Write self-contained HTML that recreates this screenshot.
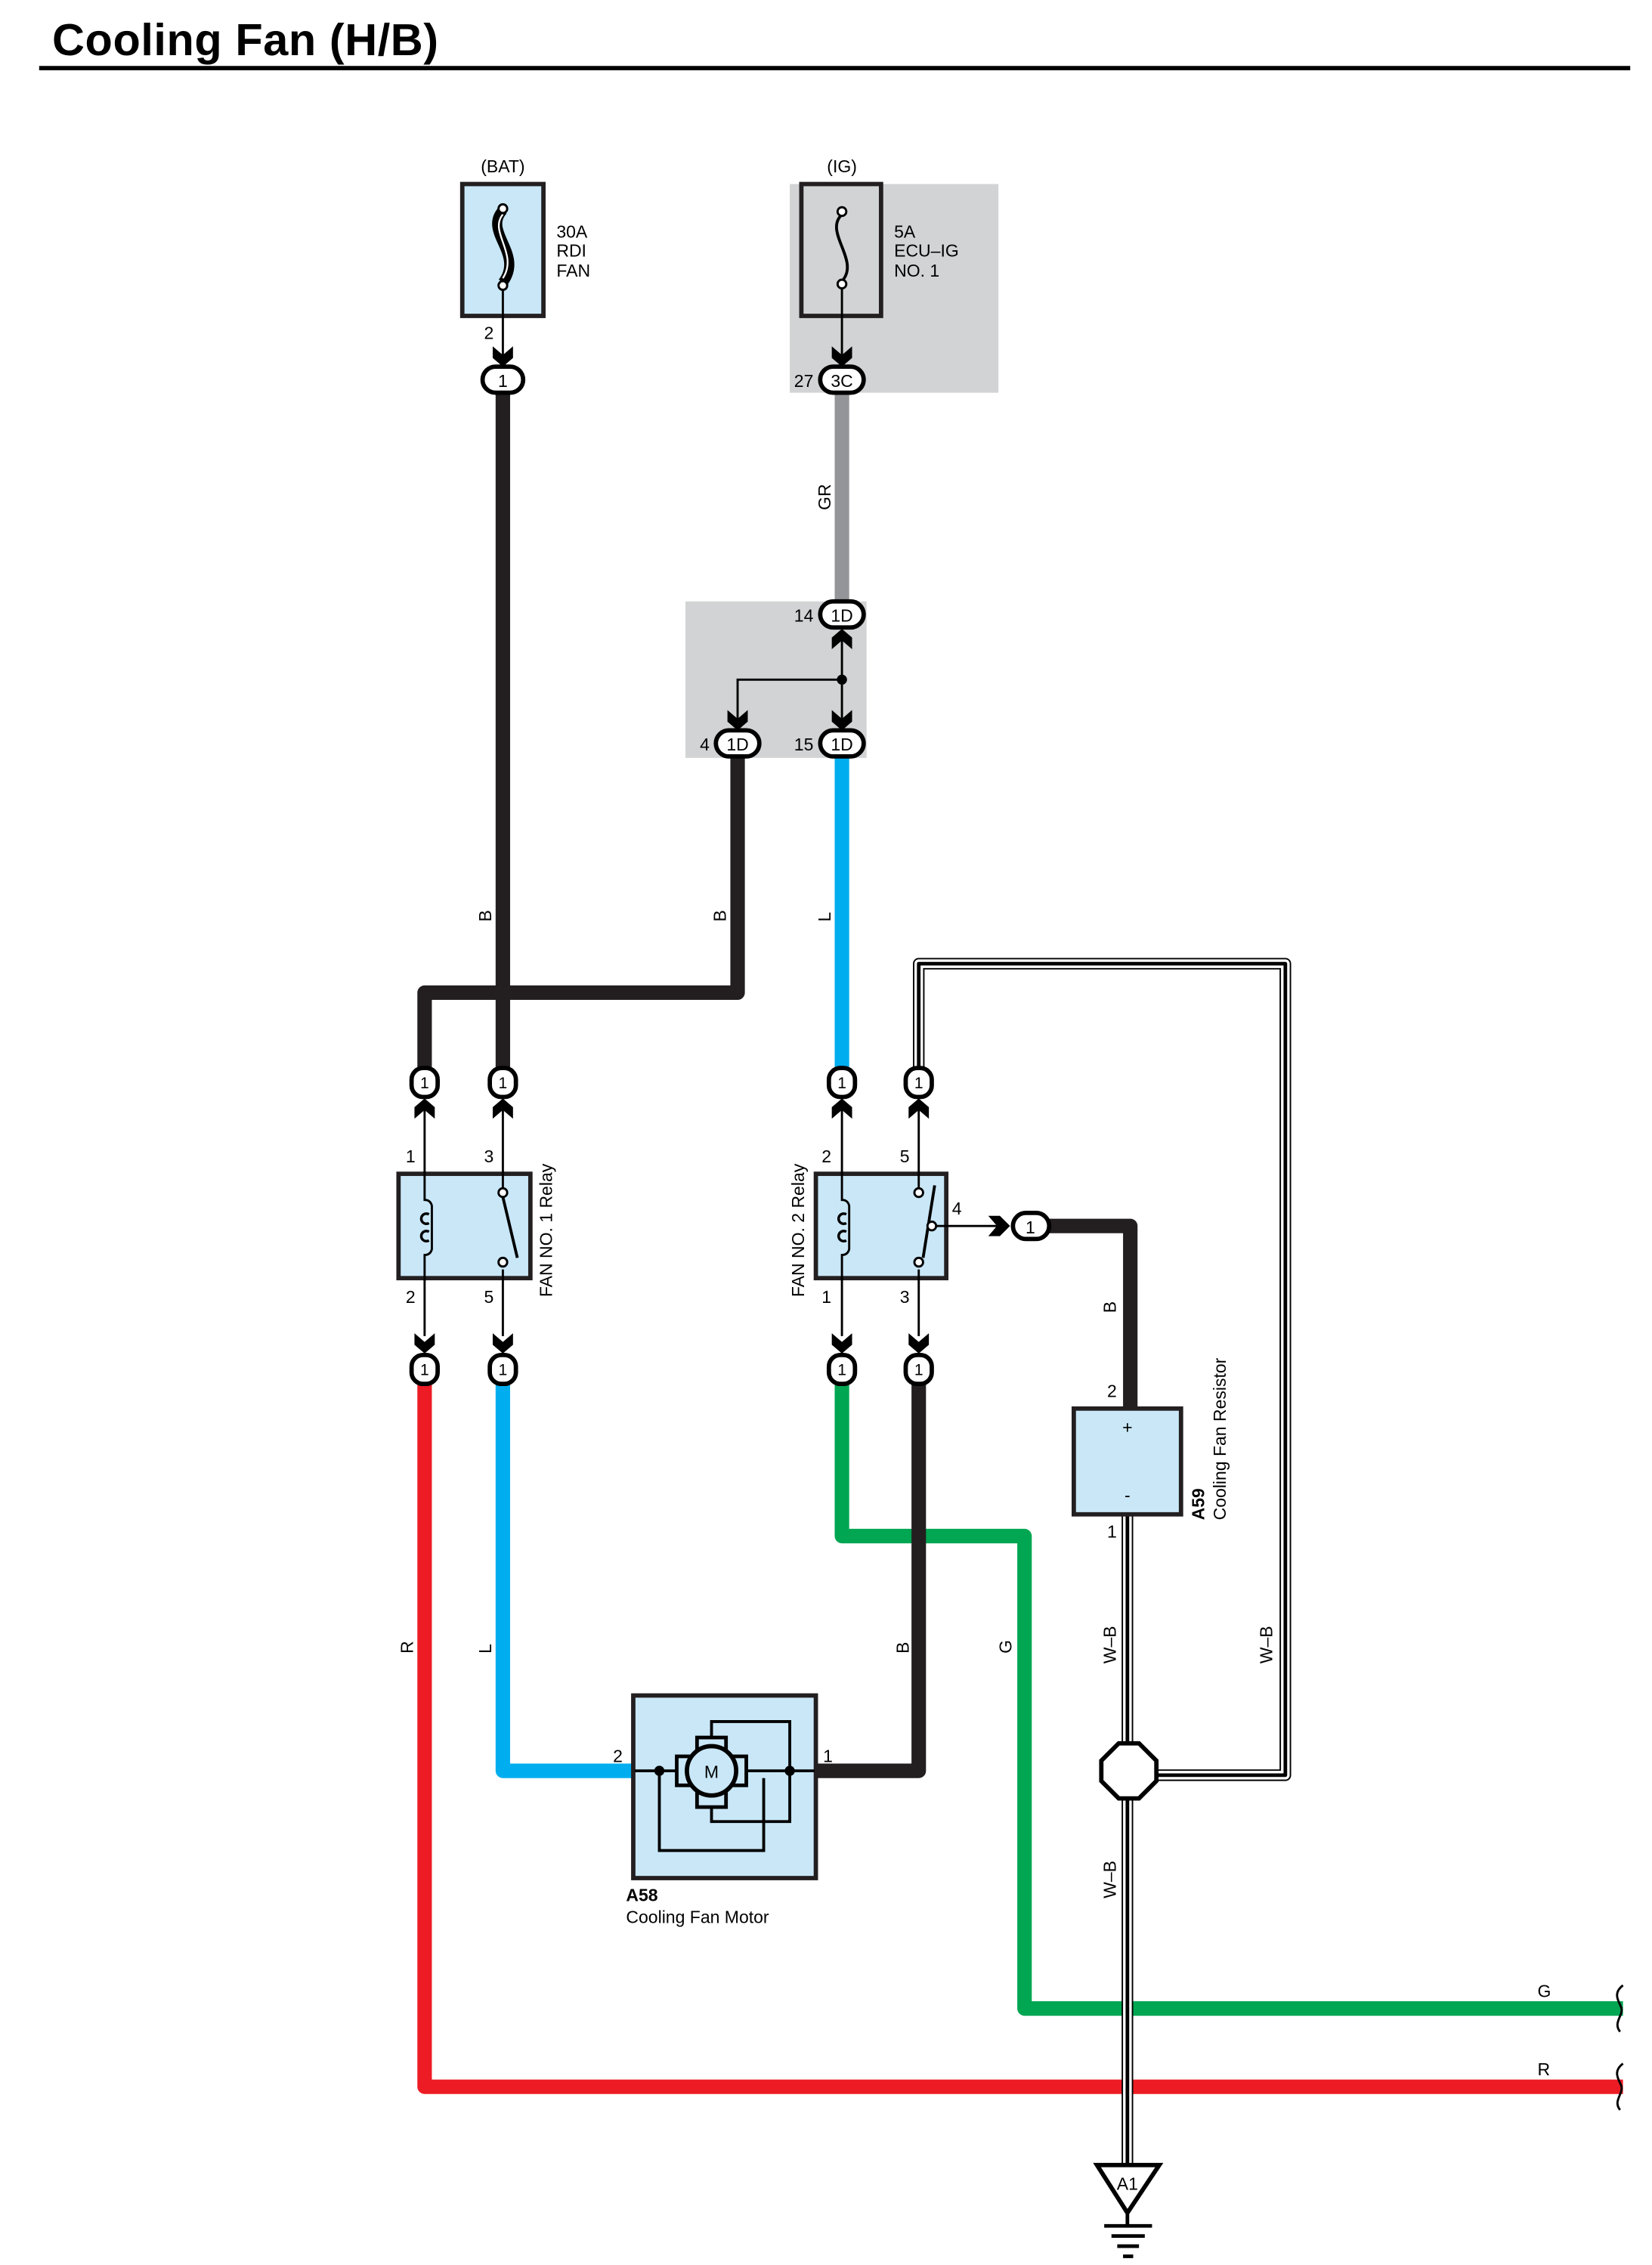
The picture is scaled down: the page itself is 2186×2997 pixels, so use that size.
<!DOCTYPE html>
<html><head><meta charset="utf-8"><style>html,body{margin:0;padding:0;background:#fff}svg{display:block}</style></head><body>
<svg width="2186" height="2997" viewBox="0 0 1140 1563" xmlns="http://www.w3.org/2000/svg" font-family="Liberation Sans, sans-serif">
<defs>
<g id="ad"><path d="M-7,-14 L0,-8 L7,-14 L7,-6 L0,0 L-7,-6 Z" fill="#000"/></g>
<g id="au"><path d="M-7,14 L0,8 L7,14 L7,6 L0,0 L-7,6 Z" fill="#000"/></g>
</defs>
<rect width="1140" height="1563" fill="#fff"/>
<text x="36" y="38" font-size="31" font-weight="bold" letter-spacing="0.3">Cooling Fan (H/B)</text>
<line x1="27" y1="47" x2="1125" y2="47" stroke="#000" stroke-width="3"/>

<rect x="545" y="127" width="144" height="144" fill="#d1d3d4"/>
<rect x="473" y="415" width="125" height="108" fill="#d1d3d4"/>

<g fill="none" stroke-linejoin="round">
<path d="M347,270 V747" stroke="#231f20" stroke-width="10"/>
<path d="M581,270 V415" stroke="#939598" stroke-width="10"/>
<path d="M509,522 V685 H293 V747" stroke="#231f20" stroke-width="10"/>
<path d="M581,522 V747" stroke="#00aeef" stroke-width="10"/>
<path d="M720,846 H780 V972" stroke="#231f20" stroke-width="10"/>
<path d="M293,953 V1440 H1120" stroke="#ed1c24" stroke-width="10"/>
<path d="M347,953 V1222 H437" stroke="#00aeef" stroke-width="10"/>
<path d="M581,953 V1060 H707 V1386 H1120" stroke="#00a651" stroke-width="10"/>
<path d="M634,953 V1222 H563" stroke="#231f20" stroke-width="10"/>
<path d="M634,740 V665 H887 V1225 H795" stroke="#000" stroke-width="8"/>
<path d="M634,740 V665 H887 V1225 H795" stroke="#fff" stroke-width="6"/>
<path d="M634,740 V665 H887 V1225 H795" stroke="#000" stroke-width="2.5"/>
<path d="M778,1045 V1495" stroke="#000" stroke-width="8"/>
<path d="M778,1045 V1495" stroke="#fff" stroke-width="6"/>
<path d="M778,1045 V1495" stroke="#000" stroke-width="2.5"/>
</g>

<rect x="319" y="127" width="56" height="91" fill="#c9e7f7" stroke="#231f20" stroke-width="3"/>
<path d="M347,145 C333,160 362,175 347,195" stroke="#000" stroke-width="7" fill="none"/>
<path d="M347,148 C337,160 358,175 347,192" stroke="#fff" stroke-width="1.2" fill="none"/>
<circle cx="347" cy="144" r="3" fill="#fff" stroke="#000" stroke-width="1.5"/>
<circle cx="347" cy="197" r="3" fill="#fff" stroke="#000" stroke-width="1.5"/>
<line x1="347" y1="200" x2="347" y2="245" stroke="#000" stroke-width="1.5"/>
<use href="#ad" x="347" y="253"/>
<text x="347" y="119" font-size="12" text-anchor="middle">(BAT)</text>
<text font-size="12"><tspan x="384" y="164">30A</tspan><tspan x="384" y="177">RDI</tspan><tspan x="384" y="191">FAN</tspan></text>
<text x="334" y="234" font-size="12">2</text>

<rect x="553" y="127" width="55" height="91" fill="none" stroke="#231f20" stroke-width="3"/>
<path d="M581,148 C568,160 594,180 581,194" stroke="#000" stroke-width="2" fill="none"/>
<circle cx="581" cy="146" r="3" fill="#fff" stroke="#000" stroke-width="1.5"/>
<circle cx="581" cy="196" r="3" fill="#fff" stroke="#000" stroke-width="1.5"/>
<line x1="581" y1="199" x2="581" y2="245" stroke="#000" stroke-width="1.5"/>
<use href="#ad" x="581" y="253"/>
<text x="581" y="119" font-size="12" text-anchor="middle">(IG)</text>
<text font-size="12"><tspan x="617" y="164">5A</tspan><tspan x="617" y="177">ECU–IG</tspan><tspan x="617" y="191">NO. 1</tspan></text>

<use href="#au" x="581" y="434"/>
<line x1="581" y1="440" x2="581" y2="497" stroke="#000" stroke-width="1.5"/>
<path d="M581,469 H509 V497" stroke="#000" stroke-width="1.5" fill="none"/>
<circle cx="581" cy="469" r="3.5" fill="#000"/>
<use href="#ad" x="509" y="504"/>
<use href="#ad" x="581" y="504"/>

<g stroke="#000" stroke-width="3" fill="#fff">
<rect x="333" y="253" width="28" height="18" rx="9"/>
<rect x="566" y="253" width="30" height="18" rx="9"/>
<rect x="566" y="415" width="30" height="18" rx="9"/>
<rect x="494" y="504" width="30" height="18" rx="9"/>
<rect x="566" y="504" width="30" height="18" rx="9"/>
<rect x="699" y="837" width="25" height="18" rx="9"/>
</g>
<g font-size="12" text-anchor="middle">
<text x="347" y="267">1</text><text x="581" y="267">3C</text><text x="581" y="429">1D</text>
<text x="509" y="518">1D</text><text x="581" y="518">1D</text><text x="711" y="851">1</text>
</g>
<g font-size="12">
<text x="548" y="267">27</text><text x="548" y="429">14</text><text x="483" y="518">4</text><text x="548" y="518">15</text>
</g>

<g stroke="#000" stroke-width="3" fill="#fff">
<rect x="284" y="737" width="18" height="20" rx="8"/><rect x="338" y="737" width="18" height="20" rx="8"/>
<rect x="572" y="737" width="18" height="20" rx="8"/><rect x="625" y="737" width="18" height="20" rx="8"/>
<rect x="284" y="935" width="18" height="20" rx="8"/><rect x="338" y="935" width="18" height="20" rx="8"/>
<rect x="572" y="935" width="18" height="20" rx="8"/><rect x="625" y="935" width="18" height="20" rx="8"/>
</g>
<g font-size="11" text-anchor="middle">
<text x="293" y="751">1</text><text x="347" y="751">1</text><text x="581" y="751">1</text><text x="634" y="751">1</text>
<text x="293" y="949">1</text><text x="347" y="949">1</text><text x="581" y="949">1</text><text x="634" y="949">1</text>
</g>
<use href="#au" x="293" y="758"/><use href="#au" x="347" y="758"/><use href="#au" x="581" y="758"/><use href="#au" x="634" y="758"/>
<use href="#ad" x="293" y="934"/><use href="#ad" x="347" y="934"/><use href="#ad" x="581" y="934"/><use href="#ad" x="634" y="934"/>
<g stroke="#000" stroke-width="1.5">
<line x1="293" y1="765" x2="293" y2="922"/><line x1="347" y1="765" x2="347" y2="922"/>
<line x1="581" y1="765" x2="581" y2="922"/><line x1="634" y1="765" x2="634" y2="922"/>
</g>

<!-- relay 1 -->
<rect x="275" y="810" width="91" height="72" fill="#c9e7f7" stroke="#231f20" stroke-width="3"/>
<rect x="289" y="826" width="14" height="42" fill="#c9e7f7"/>
<g stroke="#000" stroke-width="1.5" fill="none">
<path d="M293,808 V828 q4,0 5,4 v30 q-1,4 -5,4 V884"/>
<path d="M296,838 a3.5,3.5 0 1 0 0,6 M296,850 a3.5,3.5 0 1 0 0,6" stroke-width="1.8"/>
</g>
<rect x="340" y="823" width="14" height="50" fill="#c9e7f7"/>
<line x1="347" y1="808" x2="347" y2="820" stroke="#000" stroke-width="1.5"/>
<line x1="347" y1="876" x2="347" y2="884" stroke="#000" stroke-width="1.5"/>
<circle cx="347" cy="823" r="3" fill="#fff" stroke="#000" stroke-width="1.5"/>
<circle cx="347" cy="871" r="3" fill="#fff" stroke="#000" stroke-width="1.5"/>
<line x1="347" y1="826" x2="357" y2="868" stroke="#000" stroke-width="2"/>

<!-- relay 2 -->
<rect x="563" y="810" width="90" height="72" fill="#c9e7f7" stroke="#231f20" stroke-width="3"/>
<rect x="577" y="826" width="14" height="42" fill="#c9e7f7"/>
<g stroke="#000" stroke-width="1.5" fill="none">
<path d="M581,808 V828 q4,0 5,4 v30 q-1,4 -5,4 V884"/>
<path d="M584,838 a3.5,3.5 0 1 0 0,6 M584,850 a3.5,3.5 0 1 0 0,6" stroke-width="1.8"/>
</g>
<rect x="627" y="823" width="14" height="50" fill="#c9e7f7"/>
<line x1="634" y1="808" x2="634" y2="820" stroke="#000" stroke-width="1.5"/>
<line x1="634" y1="876" x2="634" y2="884" stroke="#000" stroke-width="1.5"/>
<circle cx="634" cy="823" r="3" fill="#fff" stroke="#000" stroke-width="1.5"/>
<circle cx="634" cy="871" r="3" fill="#fff" stroke="#000" stroke-width="1.5"/>
<line x1="645" y1="818" x2="637" y2="868" stroke="#000" stroke-width="2"/>
<circle cx="643" cy="846" r="3" fill="#fff" stroke="#000" stroke-width="1.5"/>
<line x1="646" y1="846" x2="690" y2="846" stroke="#000" stroke-width="1.5"/>
<path d="M682,839 L688,846 L682,853 L690,853 L697,846 L690,839 Z" fill="#000"/>

<g font-size="12">
<text x="280" y="802">1</text><text x="334" y="802">3</text><text x="280" y="899">2</text><text x="334" y="899">5</text>
<text x="567" y="802">2</text><text x="621" y="802">5</text><text x="567" y="899">1</text><text x="621" y="899">3</text>
<text x="657" y="838">4</text><text x="764" y="964">2</text><text x="764" y="1061">1</text>
<text x="423" y="1216">2</text><text x="568" y="1216">1</text>
</g>
<text transform="translate(381,895) rotate(-90)" font-size="12">FAN NO. 1 Relay</text>
<text transform="translate(555,895) rotate(-90)" font-size="12">FAN NO. 2 Relay</text>

<rect x="741" y="972" width="74" height="73" fill="#c9e7f7" stroke="#231f20" stroke-width="3"/>
<text x="778" y="989" font-size="12" text-anchor="middle">+</text>
<text x="778" y="1036" font-size="12" text-anchor="middle">-</text>
<text transform="translate(831,1049) rotate(-90)" font-size="12" font-weight="bold">A59</text>
<text transform="translate(846,1049) rotate(-90)" font-size="12">Cooling Fan Resistor</text>

<rect x="437" y="1170" width="126" height="126" fill="#c9e7f7" stroke="#231f20" stroke-width="3"/>
<g stroke="#000" stroke-width="2" fill="none">
<line x1="438" y1="1222" x2="562" y2="1222"/>
<path d="M455,1222 V1277 H527 V1227"/>
<path d="M545,1222 V1188 H491 V1200"/>
<path d="M545,1222 V1257 H491 V1245"/>
</g>
<rect x="481" y="1199" width="20" height="48" fill="#c9e7f7" stroke="#000" stroke-width="2.5"/>
<rect x="467" y="1212" width="48" height="20" fill="#c9e7f7" stroke="#000" stroke-width="2.5"/>
<circle cx="491" cy="1222" r="17" fill="#c9e7f7" stroke="#000" stroke-width="3"/>
<text x="491" y="1227" font-size="12" text-anchor="middle">M</text>
<circle cx="455" cy="1222" r="3.5" fill="#000"/><circle cx="545" cy="1222" r="3.5" fill="#000"/>
<text x="432" y="1312" font-size="12" font-weight="bold">A58</text>
<text x="432" y="1327" font-size="12">Cooling Fan Motor</text>

<polygon points="772,1203 786,1203 798,1215 798,1229 786,1241 772,1241 760,1229 760,1215" fill="#fff" stroke="#000" stroke-width="3"/>

<polygon points="757,1494 800,1494 778,1527" fill="#fff" stroke="#000" stroke-width="3"/>
<text x="778" y="1511" font-size="12" text-anchor="middle">A1</text>
<g stroke="#000" stroke-width="2.5">
<line x1="778" y1="1527" x2="778" y2="1536"/>
<line x1="762" y1="1536" x2="795" y2="1536"/>
<line x1="767" y1="1543" x2="790" y2="1543"/>
<line x1="771" y1="1550" x2="786" y2="1550"/>
<line x1="775" y1="1557" x2="782" y2="1557"/>
</g>

<g stroke="#000" stroke-width="1.5" fill="none">
<path d="M1120,1370 c-8,6 -2,12 -1,16 c1,5 -6,10 -1,16"/>
<path d="M1120,1424 c-8,6 -2,12 -1,16 c1,5 -6,10 -1,16"/>
</g>

<g font-size="12">
<text transform="translate(573,352) rotate(-90)">GR</text>
<text transform="translate(339,636) rotate(-90)">B</text>
<text transform="translate(501,636) rotate(-90)">B</text>
<text transform="translate(573,636) rotate(-90)">L</text>
<text transform="translate(770,906) rotate(-90)">B</text>
<text transform="translate(285,1141) rotate(-90)">R</text>
<text transform="translate(339,1141) rotate(-90)">L</text>
<text transform="translate(627,1141) rotate(-90)">B</text>
<text transform="translate(698,1141) rotate(-90)">G</text>
<text transform="translate(770,1148) rotate(-90)">W–B</text>
<text transform="translate(878,1148) rotate(-90)">W–B</text>
<text transform="translate(770,1310) rotate(-90)">W–B</text>
<text x="1061" y="1378">G</text>
<text x="1061" y="1432">R</text>
</g>
</svg>
</body></html>
